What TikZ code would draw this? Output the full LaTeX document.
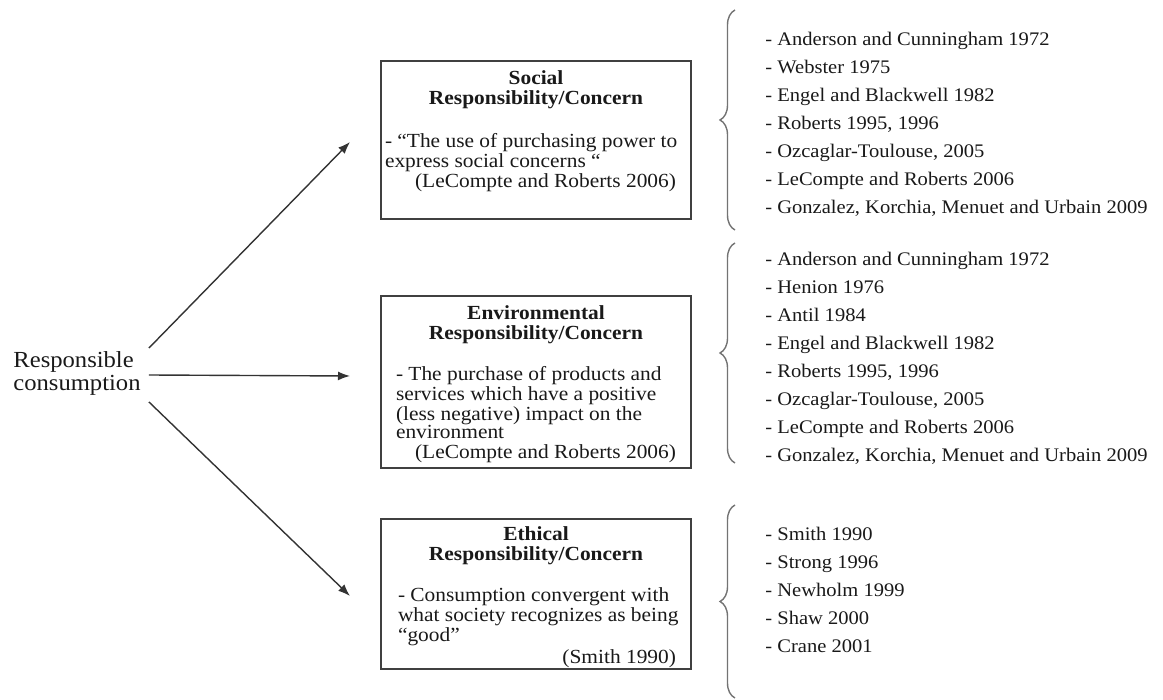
\documentclass[tikz,border=0pt]{standalone}
\usepackage{fontspec}
\setmainfont{Liberation Serif}[FakeStretch=1.07]
\usetikzlibrary{decorations.pathreplacing, arrows.meta}
\tikzstyle{respbox}=[draw=black!75, line width=1pt, inner sep=0pt, anchor=north west, text=black!90]
\tikzstyle{reflist}=[align=left, inner sep=0pt, anchor=west, text=black!90, font=\fontsize{9.6}{14}\selectfont]
\tikzstyle{arr}=[-{Latex[length=6pt,width=4.5pt]}, line width=0.7pt, draw=black!80]
\tikzstyle{refbrace}=[decorate, decoration={brace, amplitude=7.5pt}, draw=black!55, line width=0.7pt]
\newcommand{\boxhead}[1]{{\centering\bfseries\baselineskip=10pt #1\par}}
\newcommand{\boxcite}[1]{{\raggedleft\rightskip=7.5pt #1\par}}

\begin{document}
\begin{tikzpicture}[x=0.5pt, y=-0.5pt]
	\useasboundingbox (0,0) rectangle (1163,700);

	\node[align=left, inner sep=0pt, text=black!90, font=\fontsize{11.5}{11.5}\selectfont] (rc) at (77,373) {Responsible\\consumption};

	% the three boxes
	\node[respbox] (soc) at (380,60) {\parbox[c][79pt][t]{155pt}{\fontsize{10}{9}\selectfont
		\vspace*{5pt}
		\boxhead{Social\\Responsibility/Concern}
		\vspace{11pt}
		{\raggedright\leftskip=2pt - “The use of purchasing power to\\express social concerns “\par}
		\boxcite{(LeCompte and Roberts 2006)}}};

	\node[respbox] (env) at (380,295) {\parbox[c][86pt][t]{155pt}{\fontsize{10}{9}\selectfont
		\vspace*{5pt}
		\boxhead{Environmental\\Responsibility/Concern}
		\vspace{10pt}
		{\raggedright\leftskip=7.5pt - The purchase of products and\\services which have a positive\\(less negative) impact on the\\environment\par}
		\vspace{1pt}
		\boxcite{(LeCompte and Roberts 2006)}}};

	\node[respbox] (eth) at (380,518) {\parbox[c][75pt][t]{155pt}{\fontsize{10}{9}\selectfont
		\vspace*{4pt}
		\boxhead{Ethical\\Responsibility/Concern}
		\vspace{10pt}
		{\raggedright\leftskip=8.5pt - Consumption convergent with\\what society recognizes as being\\“good”\par}
		\vspace{1pt}
		\boxcite{(Smith 1990)}}};

	\draw[arr] ([shift={(8,-25)}]rc.east) -- ([shift={(-30,2)}]soc.west);
	\draw[arr] ([shift={(8,2)}]rc.east) -- ([shift={(-30,-6)}]env.west);
	\draw[arr] ([shift={(8,29)}]rc.east) -- ([shift={(-30,2)}]eth.west);

	% references
	\draw[refbrace] (735,230) -- (735,10);
	\node[reflist] (lst1) at (765,124) {- Anderson and Cunningham 1972\\- Webster 1975\\- Engel and Blackwell 1982\\- Roberts 1995, 1996\\- Ozcaglar-Toulouse, 2005\\- LeCompte and Roberts 2006\\- Gonzalez, Korchia, Menuet and Urbain 2009};

	\draw[refbrace] (735,463) -- (735,243);
	\node[reflist] (lst2) at (765,358) {- Anderson and Cunningham 1972\\- Henion 1976\\- Antil 1984\\- Engel and Blackwell 1982\\- Roberts 1995, 1996\\- Ozcaglar-Toulouse, 2005\\- LeCompte and Roberts 2006\\- Gonzalez, Korchia, Menuet and Urbain 2009};

	\draw[refbrace] (735,698) -- (735,505);
	\node[reflist] (lst3) at (765,590) {- Smith 1990\\- Strong 1996\\- Newholm 1999\\- Shaw 2000\\- Crane 2001};
\end{tikzpicture}
\end{document}
